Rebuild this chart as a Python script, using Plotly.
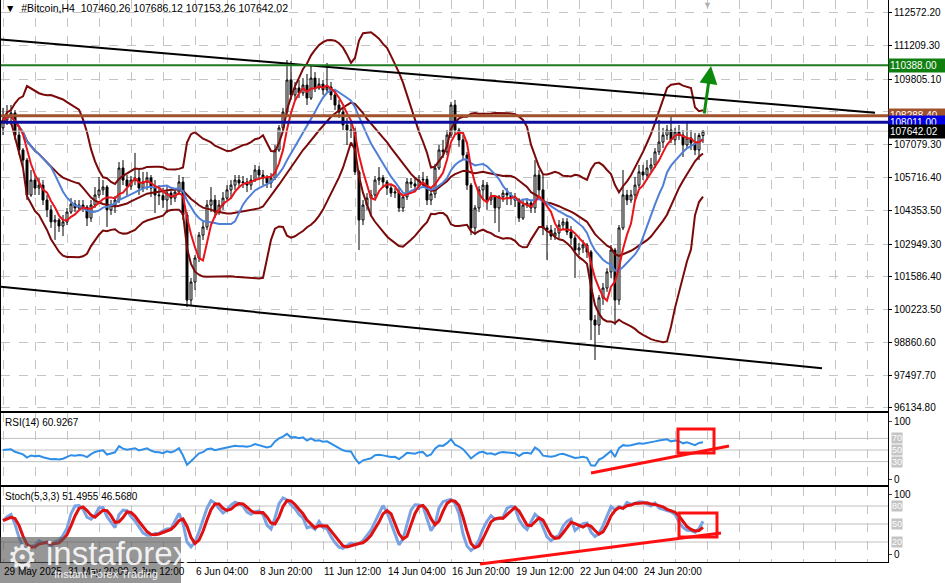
import pandas as pd
import numpy as np
import plotly.graph_objects as go

# ---------------- data ----------------
first_open = 107780.0
close = [
    108110, 108320, 108400, 107480, 106860, 106440, 104990, 105610, 105280, 105400,
    104780, 104370, 103870, 103950, 103700, 103870, 104280, 104610, 104450, 104570,
    104490, 104030, 104570, 104990, 105200, 105320, 104370, 104570, 104780, 106110,
    105610, 105360, 105610, 105700, 105280, 105530, 105700, 105280, 104990, 104960,
    104780, 105070, 104860, 105110, 105530, 104160, 100620, 101370, 102370, 103320,
    103660, 104570, 104780, 104280, 104570, 104860, 105200, 105400, 105610, 105490,
    105530, 105400, 105610, 106030, 105820, 105700, 105490, 105700, 106860, 107780,
    108440, 109770, 109150, 109440, 109230, 109560, 109020, 109850, 109440, 109600,
    109360, 109480, 109150, 108730, 108440, 107900, 107690, 107650, 105950, 103950,
    104570, 104860, 104990, 105610, 105700, 105530, 105280, 105070, 105110, 104450,
    104910, 105530, 105450, 105360, 105610, 105640, 104780, 105030, 106110, 106860,
    106780, 107480, 108730, 107690, 107280, 106650, 105400, 103620, 104450, 105200,
    105400, 104780, 104910, 104450, 104910, 105070, 104990, 104860, 104780, 104030,
    104570, 104660, 104450, 105820, 105200, 103620, 103530, 103280, 103410, 103740,
    103870, 103450, 103200, 102700, 102790, 102910, 102620, 99790, 99580, 100710,
    101120, 101790, 102700, 100620, 103620, 104990, 104780, 104990, 105400, 105950,
    105820, 106110, 106240, 106780, 107190, 107480, 107690, 107280, 107610, 107480,
    107070, 107360, 107150, 106860, 107460.26, 107642.02,
]
high = [
    108610, 108730, 108730, 108520, 107780, 106940, 106530, 106030, 105820, 105700,
    105610, 104990, 104570, 104160, 104030, 104160, 104450, 104860, 104780, 104780,
    104780, 104570, 104780, 105320, 105740, 105610, 105400, 104780, 104950, 106360,
    106440, 105820, 105780, 106740, 106030, 105950, 105950, 105820, 105610, 105400,
    105280, 105400, 105200, 105280, 105820, 105740, 104280, 101540, 102490, 103450,
    103870, 104780, 105320, 104990, 104780, 105110, 105400, 105610, 105820, 105820,
    105780, 105700, 105820, 106240, 106190, 106030, 105820, 105900, 107070, 107900,
    108610, 110600, 110560, 109690, 109770, 109850, 110020, 110390, 110100, 109850,
    109770, 110480, 109690, 109360, 108940, 108610, 108190, 108020, 107780, 106030,
    104780, 105070, 105200, 105780, 106150, 105820, 105610, 105400, 105280, 105280,
    104990, 105700, 105700, 105700, 105820, 105950, 105780, 105280, 106280, 107070,
    107280, 107690, 108860, 108940, 107780, 107480, 106780, 105490, 104570, 105360,
    105610, 105530, 105110, 104990, 104990, 105200, 105280, 105110, 105070, 104860,
    104780, 104860, 104780, 106440, 106030, 105820, 103740, 103740, 103620, 103950,
    104030, 104030, 103700, 103320, 102990, 103120, 102990, 102700, 100000, 100830,
    101330, 101950, 102910, 102790, 103740, 106030, 105200, 105200, 105740, 106240,
    106240, 106440, 106530, 106940, 108110, 107780, 107900, 108230, 107780, 107900,
    107690, 108020, 107690, 107570, 107570, 107686.12,
]
low = [
    107480, 107900, 107900, 107280, 106650, 106110, 104780, 104910, 104990, 104990,
    104570, 104070, 103620, 103120, 103450, 103280, 103740, 104200, 104280, 104370,
    104280, 103700, 103870, 104450, 104860, 104990, 103660, 104160, 104240, 104660,
    105400, 104910, 105200, 105400, 104990, 105110, 105200, 104910, 104240, 104570,
    104450, 104240, 104570, 104700, 104990, 103950, 100330, 100380, 101040, 102200,
    103120, 103530, 104280, 104030, 104160, 104370, 104780, 104860, 105200, 105280,
    105280, 105110, 105200, 105530, 105610, 105400, 105280, 105280, 105610, 106780,
    107690, 108320, 108940, 108940, 109020, 109110, 108730, 108940, 109270, 109360,
    109150, 109270, 108940, 108520, 108190, 107690, 107070, 107360, 105820, 102700,
    103740, 104370, 104160, 104860, 105400, 105280, 104990, 104910, 104860, 104280,
    104280, 104780, 105280, 105110, 105200, 105280, 104570, 104570, 104860, 106030,
    106530, 106650, 107360, 107480, 106990, 106440, 105200, 103320, 103320, 104280,
    104780, 104370, 104570, 103820, 103450, 104700, 104570, 104570, 104490, 103870,
    103950, 104450, 104240, 104240, 104990, 103320, 102290, 103120, 103120, 103200,
    103530, 103320, 102910, 101540, 102490, 102580, 102370, 98960, 98130, 99170,
    100420, 100960, 101540, 99580, 100420, 103530, 104570, 104660, 104780, 105280,
    105610, 105610, 105950, 106110, 106650, 106940, 107280, 107150, 107070, 107280,
    106570, 106940, 106860, 106650, 106440, 107153.26,
]
first_bar_time = "2025-05-29 04:00"

xtick_bars = [0, 16, 32, 48, 64, 80, 96, 112, 128, 144, 160]
xtick_text = ["29 May 2025", "31 May 20:00", "3 Jun 12:00", "6 Jun 04:00", "8 Jun 20:00",
              "11 Jun 12:00", "14 Jun 04:00", "16 Jun 20:00", "19 Jun 12:00",
              "22 Jun 04:00", "24 Jun 20:00"]
price_ticks = [112572.20, 111209.30, 109805.10, 108442.20, 107079.30, 105716.40, 104353.50,
               102949.30, 101586.40, 100223.50, 98860.60, 97497.70, 96134.80]
price_tick_text = ["112572.20", "111209.30", "109805.10", "", "107079.30", "105716.40",
                   "104353.50", "102949.30", "101586.40", "100223.50", "98860.60",
                   "97497.70", "96134.80"]
green_level = 110388.00
brown_level = 108288.40
blue_level = 108011.00
bid_price = 107642.02
# trend lines: (bar index, price)
upper_trend = [(-0.75, 111455), (218.0, 108411)]
lower_trend = [(-0.75, 101176), (204.75, 97787)]
rsi_levels = [70, 50, 30]
stoch_levels = [80, 50, 20]

# ---------------- derived ----------------
n = len(close)
t0 = pd.Timestamp(first_bar_time)
def bar_time(i):
    return t0 + pd.Timedelta(hours=4 * i)
times = [bar_time(i) for i in range(n)]
opens = [first_open] + close[:-1]
hi = [max(h, o, c) for h, o, c in zip(high, opens, close)]
lo = [min(l, o, c) for l, o, c in zip(low, opens, close)]

s = pd.Series(close, dtype=float)
ma_fast = s.rolling(5, min_periods=1).mean()
ma_slow = s.rolling(13, min_periods=1).mean()
bb_mid = s.rolling(20, min_periods=1).mean()
bb_sd = s.rolling(20, min_periods=1).std(ddof=0).fillna(0)
bb_up = bb_mid + 2 * bb_sd
bb_dn = bb_mid - 2 * bb_sd

# RSI(14), Wilder smoothing, neutral start
diffs = np.diff(np.array(close, dtype=float), prepend=close[0])
seed = float(np.mean(np.abs(diffs[1:15])))
ag, al = seed, seed
rsi = []
for dv in diffs:
    ag = (ag * 13 + max(dv, 0)) / 14
    al = (al * 13 + max(-dv, 0)) / 14
    rsi.append(100 - 100 / (1 + ag / al) if al > 0 else 100)

H = pd.Series(hi, dtype=float)
L = pd.Series(lo, dtype=float)
ll = L.rolling(5, min_periods=1).min()
hh = H.rolling(5, min_periods=1).max()
k = 100 * (s - ll).rolling(3, min_periods=1).sum() / (hh - ll).rolling(3, min_periods=1).sum()
dline = k.rolling(3, min_periods=1).mean()

# ---------------- figure ----------------
FONT = "Liberation Sans, Arial, sans-serif"
W, Hh = 945, 583
ML, MR, MT, MB = 1, 57, 0, 21
PW, PH = W - ML - MR, Hh - MT - MB

def px(xp, yp):
    return (xp - ML) / PW, 1 - (yp - MT) / PH

fig = go.Figure()

fig.add_trace(go.Candlestick(
    x=times, open=opens, high=hi, low=lo, close=close,
    increasing=dict(line=dict(color="black", width=1), fillcolor="white"),
    decreasing=dict(line=dict(color="black", width=1), fillcolor="black"),
    whiskerwidth=0, xaxis="x", yaxis="y", hoverinfo="skip", showlegend=False))

for ser in (bb_up, bb_mid, bb_dn):
    fig.add_trace(go.Scatter(x=times, y=ser, mode="lines", line=dict(color="#7a0a0a", width=2),
                             xaxis="x", yaxis="y", hoverinfo="skip", showlegend=False))
fig.add_trace(go.Scatter(x=times, y=ma_slow, mode="lines", line=dict(color="#4f7fd6", width=2),
                         xaxis="x", yaxis="y", hoverinfo="skip", showlegend=False))
fig.add_trace(go.Scatter(x=times, y=ma_fast, mode="lines", line=dict(color="#e8141a", width=2),
                         xaxis="x", yaxis="y", hoverinfo="skip", showlegend=False))

fig.add_trace(go.Scatter(x=times, y=rsi, mode="lines", line=dict(color="#2f8fe8", width=2),
                         xaxis="x2", yaxis="y2", hoverinfo="skip", showlegend=False))
fig.add_trace(go.Scatter(x=times, y=k, mode="lines", line=dict(color="#7ba3e3", width=3),
                         xaxis="x3", yaxis="y3", hoverinfo="skip", showlegend=False))
fig.add_trace(go.Scatter(x=times, y=dline, mode="lines", line=dict(color="#e01010", width=3),
                         xaxis="x3", yaxis="y3", hoverinfo="skip", showlegend=False))

for (a, b) in (upper_trend, lower_trend):
    fig.add_trace(go.Scatter(x=[bar_time(a[0]), bar_time(b[0])], y=[a[1], b[1]], mode="lines",
                             line=dict(color="black", width=2), xaxis="x", yaxis="y",
                             hoverinfo="skip", showlegend=False))

x_start = bar_time(-0.5)
x_end = bar_time(-0.5 + PW / 4)
grid_vals = [bar_time(8 * j) for j in range(0, 28)]

axis_common = dict(showline=True, mirror=True, linecolor="black", linewidth=1, zeroline=False)
xcommon = dict(type="date", range=[x_start, x_end], tickvals=grid_vals, showticklabels=False,
               showgrid=True, gridcolor="#c4c4c4", griddash="dash", gridwidth=1, ticks="",
               domain=[0, 1], **axis_common)

fig.update_layout(
    width=W, height=Hh, margin=dict(l=ML, r=MR, t=MT, b=MB, autoexpand=False),
    paper_bgcolor="white", plot_bgcolor="white", showlegend=False,
    font=dict(family=FONT, size=10, color="black"),
    xaxis=dict(anchor="y", rangeslider=dict(visible=False), **xcommon),
    xaxis2=dict(anchor="y2", matches="x", **xcommon),
    xaxis3=dict(anchor="y3", matches="x", **xcommon),
    yaxis=dict(domain=[1 - 411 / PH, 1], range=[113097 - 41.58 * 411, 113097], side="right",
               tickvals=price_ticks, ticktext=price_tick_text, showgrid=True, gridcolor="#c4c4c4",
               griddash="dash", ticks="outside", ticklen=3, tickcolor="black",
               tickfont=dict(size=10, family=FONT), **axis_common),
    yaxis2=dict(domain=[1 - 485 / PH, 1 - 413 / PH], range=[-10.3, 113.8], side="right",
                tickvals=[100, 0], ticktext=["100", "0"], showgrid=False, ticks="outside",
                ticklen=3, tickfont=dict(size=10, family=FONT), **axis_common),
    yaxis3=dict(domain=[0, 1 - 487 / PH], range=[-13.3, 111.7], side="right",
                tickvals=[100, 0], ticktext=["100", "0"], showgrid=False, ticks="outside",
                ticklen=3, tickfont=dict(size=10, family=FONT), **axis_common),
)

shapes = []
for lv in rsi_levels:
    shapes.append(dict(type="line", xref="x2 domain", yref="y2", x0=0, x1=1, y0=lv, y1=lv,
                       line=dict(color="#c0c0c0", width=1), layer="below"))
for lv in stoch_levels:
    shapes.append(dict(type="line", xref="x3 domain", yref="y3", x0=0, x1=1, y0=lv, y1=lv,
                       line=dict(color="#c0c0c0", width=1), layer="below"))
shapes.append(dict(type="line", xref="x domain", yref="y", x0=0, x1=1, y0=bid_price, y1=bid_price,
                   line=dict(color="#c8c8c8", width=1)))
shapes.append(dict(type="line", xref="x domain", yref="y", x0=0, x1=1, y0=green_level, y1=green_level,
                   line=dict(color="#207a20", width=2)))
shapes.append(dict(type="line", xref="x domain", yref="y", x0=0, x1=1, y0=brown_level, y1=brown_level,
                   line=dict(color="#a0522d", width=3)))
shapes.append(dict(type="line", xref="x domain", yref="y", x0=0, x1=1, y0=blue_level, y1=blue_level,
                   line=dict(color="#0c0c9c", width=3)))

def rect(x0, y0, x1, y1):
    a = px(x0, y0); b = px(x1, y1)
    return dict(type="rect", xref="paper", yref="paper", x0=a[0], y0=a[1], x1=b[0], y1=b[1],
                line=dict(color="#ff1010", width=3), fillcolor="rgba(0,0,0,0)")
def seg(x0, y0, x1, y1, col, w):
    a = px(x0, y0); b = px(x1, y1)
    return dict(type="line", xref="paper", yref="paper", x0=a[0], y0=a[1], x1=b[0], y1=b[1],
                line=dict(color=col, width=w))
shapes.append(rect(678, 429, 714, 453))
shapes.append(seg(591, 473, 729, 446, "#ff1010", 3))
shapes.append(rect(679, 513, 717, 537))
shapes.append(seg(480, 564, 721, 533, "#ff1010", 3))

a = px(0, 537); b = px(181, 583)
shapes.append(dict(type="rect", xref="paper", yref="paper", x0=a[0], y0=a[1], x1=b[0], y1=b[1],
                   line=dict(width=0), fillcolor="rgba(85,85,85,0.62)"))
fig.update_layout(shapes=shapes)

ann = []
def txt(xp, yp, text, size=10, color="black", anchor="left", **kw):
    p = px(xp, yp)
    return dict(x=p[0], y=p[1], xref="paper", yref="paper", text=text, showarrow=False,
                xanchor=anchor, yanchor="middle", font=dict(size=size, color=color, family=FONT), **kw)

ann.append(txt(3, 8, "▼  #Bitcoin,H4  107460.26 107686.12 107153.26 107642.02", 10.5))
ann.append(txt(3, 422, "RSI(14) 60.9267", 10))
ann.append(txt(3, 496, "Stoch(5,3,3) 51.4955 46.5680", 10))
ann.append(txt(707, 5, "▼", 9, "#b0b0b0", "center"))

for bi, tt in zip(xtick_bars, xtick_text):
    ann.append(dict(x=bar_time(bi), y=0, xref="x3", yref="paper", text=tt, showarrow=False,
                    xanchor="left", yanchor="top", yshift=-2, xshift=-1,
                    font=dict(size=10, family=FONT, color="black")))

for lv in rsi_levels:
    ann.append(dict(x=1, y=lv, xref="paper", yref="y2", text=str(lv), showarrow=False,
                    xanchor="left", xshift=3, font=dict(size=9, color="white", family=FONT),
                    bgcolor="#c4c4c4", borderpad=0))
for lv in stoch_levels:
    ann.append(dict(x=1, y=lv, xref="paper", yref="y3", text=str(lv), showarrow=False,
                    xanchor="left", xshift=3, font=dict(size=9, color="white", family=FONT),
                    bgcolor="#c4c4c4", borderpad=0))

for val, col in ((green_level, "#0f7f0f"), (brown_level, "#a0522d"), (blue_level, "#0000e0"),
                 (bid_price, "#000000")):
    ann.append(dict(x=1, y=val, xref="paper", yref="y", text=f"{val:.2f}", showarrow=False,
                    xanchor="left", xshift=0, width=54, height=11, align="left",
                    bgcolor=col, borderpad=1, font=dict(size=10, color="white", family=FONT)))

ann.append(dict(x=bar_time((711 - 3) / 4), y=113097 - 41.58 * 66, xref="x", yref="y",
                ax=-7, ay=49, axref="pixel", ayref="pixel", text="", showarrow=True,
                arrowhead=2, arrowsize=1.2, arrowwidth=3, arrowcolor="#0c8a0c"))

ann.append(txt(22, 557, "⚙", 34, "rgba(255,255,255,0.85)", "center"))
ann.append(txt(44, 553, "instaforex", 33, "rgba(255,255,255,0.9)", "left"))
ann.append(txt(52, 574, "Instant Forex Trading", 11, "rgba(255,255,255,0.9)", "left"))

fig.update_layout(annotations=ann)
fig.write_html("out.html", config={"displayModeBar": False},
               post_script="document.body.style.margin='0px';document.body.style.padding='0px';"
                           "document.body.style.overflow='hidden';")
